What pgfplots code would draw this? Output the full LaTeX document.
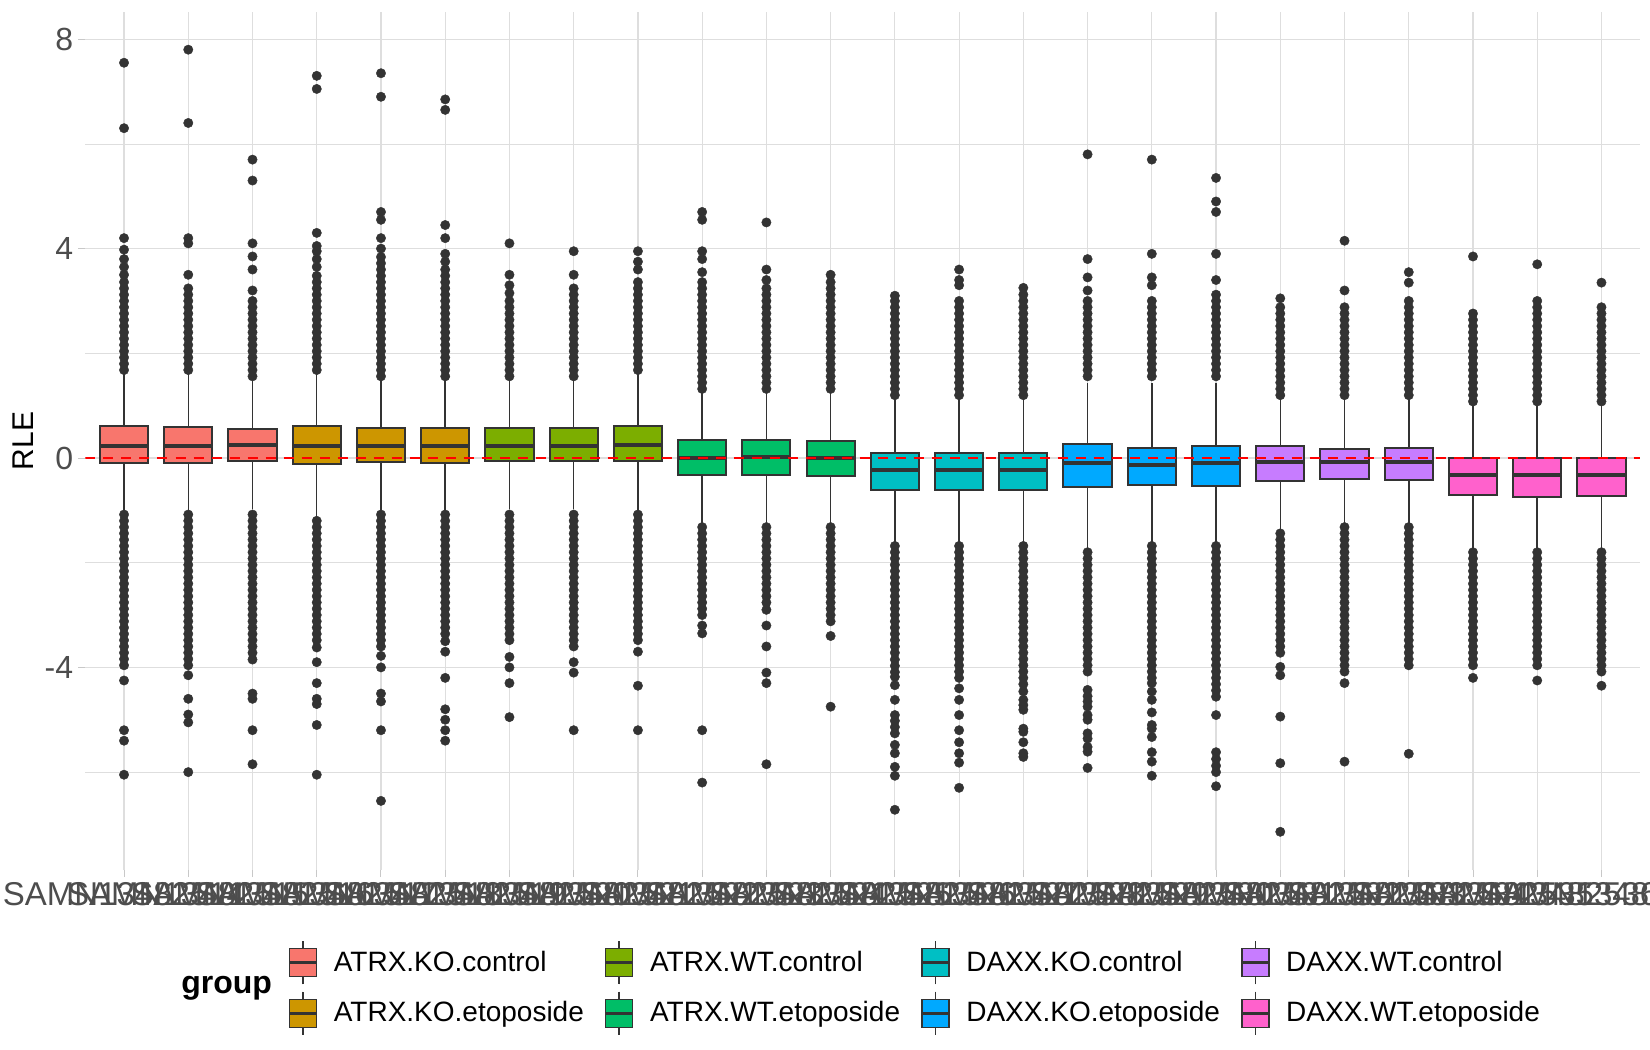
\documentclass[border=0pt]{standalone}
\usepackage{fontspec}
\setmainfont{Liberation Sans}
\usepackage{pgfplots}
\pgfplotsset{compat=1.18}
\usepgfplotslibrary{statistics}
\definecolor{cKOc}{HTML}{F8766D}
\definecolor{cKOe}{HTML}{CD9600}
\definecolor{cWTc}{HTML}{7CAE00}
\definecolor{cWTe}{HTML}{00BE67}
\definecolor{cDKc}{HTML}{00BFC4}
\definecolor{cDKe}{HTML}{00A9FF}
\definecolor{cDWc}{HTML}{C77CFF}
\definecolor{cDWe}{HTML}{FF61CC}
\definecolor{cOut}{HTML}{333333}
\definecolor{cTick}{HTML}{4D4D4D}
\definecolor{cGrid}{HTML}{DEDEDE}
\definecolor{cTickMark}{HTML}{C8C8C8}
\pgfplotsset{
  boxplot/every median/.style={line width=2pt},
  boxplot/every whisker/.style={line width=0.75pt},
  rle/.style={draw=cOut, fill=#1, line width=1pt, solid, forget plot,
    mark=*, mark size=2.35pt,
    mark options={fill=cOut, draw=cOut, line width=0.2pt},
    boxplot/draw direction=y,
    boxplot/box extend=0.75, boxplot/whisker extend=0},
}
\begin{document}
\begin{tikzpicture}
\useasboundingbox (-42.75pt,-90pt) rectangle (782.25pt,435pt);
\begin{axis}[
  scale only axis, width=777.25pt, height=429pt,
  at={(0,0)}, anchor=south west,
  xmin=0.4, xmax=24.6, ymin=-7.87, ymax=8.52,
  clip mode=individual,
  axis line style={draw=none},
  tick pos=left, tick align=outside,
  major tick length=3.5pt, minor tick length=0pt,
  tick style={draw=cTickMark, line width=0.5pt},
  xtick={1,...,24},
  xticklabels={SAMN13482514,SAMN13482515,SAMN13482516,SAMN13482517,SAMN13482518,SAMN13482519,SAMN13482520,SAMN13482521,SAMN13482522,SAMN13482523,SAMN13482524,SAMN13482525,SAMN13482526,SAMN13482527,SAMN13482528,SAMN13482529,SAMN13482530,SAMN13482531,SAMN13482532,SAMN13482533,SAMN13482534,SAMN13482535,SAMN13482536,SAMN13482537},
  ytick={-4,0,4,8}, minor ytick={-6,-2,2,6},
  grid=both,
  major grid style={draw=cGrid, line width=0.6pt},
  minor grid style={draw=cGrid, line width=0.35pt},
  ticklabel style={font=\fontsize{16}{19}\selectfont, text=cTick},
  /pgf/number format/assume math mode=true,
  yticklabel style={anchor=east, inner sep=0pt, xshift=-2.5pt},
  xticklabel style={anchor=north, inner sep=0pt, yshift=-2.5pt, font=\fontsize{16.5}{19}\selectfont},
  ylabel={RLE},
  ylabel style={font=\fontsize{15}{18}\selectfont, at={(axis description cs:-0.0402,0.5)}, anchor=center},
  legend columns=4,
  legend cell align=left,
  legend style={draw=none, fill=none, inner sep=0pt, outer sep=0pt,
    at={(axis description cs:0.1303,-0.1375)}, anchor=west,
    font=\fontsize{14}{17}\selectfont, row sep=3pt,
    nodes={inner sep=0pt},
    /tikz/every odd column/.append style={column sep=8pt},
    /tikz/every even column/.append style={column sep=10.2pt}},
  legend image code/.code={
    \draw[#1, draw=cOut, line width=0.7pt] (0pt,-7pt) rectangle (13.5pt,7pt);
    \draw[cOut, line width=1.4pt] (0pt,0pt) -- (13.5pt,0pt);
    \draw[cOut, line width=0.7pt] (6.75pt,7pt) -- (6.75pt,10.8pt) (6.75pt,-7pt) -- (6.75pt,-10.8pt);
  },
]
\addlegendimage{fill=cKOc}\addlegendentry{ATRX.KO.control}
\addlegendimage{fill=cWTc}\addlegendentry{ATRX.WT.control}
\addlegendimage{fill=cDKc}\addlegendentry{DAXX.KO.control}
\addlegendimage{fill=cDWc}\addlegendentry{DAXX.WT.control}
\addlegendimage{fill=cKOe}\addlegendentry{ATRX.KO.etoposide}
\addlegendimage{fill=cWTe}\addlegendentry{ATRX.WT.etoposide}
\addlegendimage{fill=cDKe}\addlegendentry{DAXX.KO.etoposide}
\addlegendimage{fill=cDWe}\addlegendentry{DAXX.WT.etoposide}

% 1
\addplot[rle=cKOc, boxplot prepared={draw position=1, lower whisker=-1.04, lower quartile=-0.10, median=0.22, upper quartile=0.61, upper whisker=1.62}]
table[row sep=\\, y index=0] {y\\1.68\\1.80\\1.92\\2.04\\2.16\\2.28\\2.40\\2.52\\2.64\\2.76\\2.88\\3.00\\3.12\\3.24\\3.36\\3.50\\3.65\\3.80\\3.98\\4.20\\6.30\\7.55\\
-1.08\\-1.20\\-1.32\\-1.44\\-1.56\\-1.68\\-1.80\\-1.92\\-2.04\\-2.16\\-2.28\\-2.40\\-2.52\\-2.64\\-2.76\\-2.88\\-3.00\\-3.12\\-3.24\\-3.36\\-3.48\\-3.60\\-3.72\\-3.84\\-3.96\\-4.25\\-5.20\\-5.40\\-6.05\\};
% 2
\addplot[rle=cKOc, boxplot prepared={draw position=2, lower whisker=-1.04, lower quartile=-0.10, median=0.22, upper quartile=0.60, upper whisker=1.62}]
table[row sep=\\, y index=0] {y\\1.68\\1.80\\1.92\\2.04\\2.16\\2.28\\2.40\\2.52\\2.64\\2.76\\2.88\\3.00\\3.12\\3.24\\3.50\\4.10\\4.20\\6.40\\7.80\\
-1.08\\-1.20\\-1.32\\-1.44\\-1.56\\-1.68\\-1.80\\-1.92\\-2.04\\-2.16\\-2.28\\-2.40\\-2.52\\-2.64\\-2.76\\-2.88\\-3.00\\-3.12\\-3.24\\-3.36\\-3.48\\-3.60\\-3.72\\-3.84\\-3.96\\-4.15\\-4.60\\-4.90\\-5.05\\-6.00\\};
% 3
\addplot[rle=cKOc, boxplot prepared={draw position=3, lower whisker=-0.98, lower quartile=-0.06, median=0.24, upper quartile=0.56, upper whisker=1.50}]
table[row sep=\\, y index=0] {y\\1.56\\1.68\\1.80\\1.92\\2.04\\2.16\\2.28\\2.40\\2.52\\2.64\\2.76\\2.88\\3.00\\3.20\\3.60\\3.85\\4.10\\5.30\\5.70\\
-1.08\\-1.20\\-1.32\\-1.44\\-1.56\\-1.68\\-1.80\\-1.92\\-2.04\\-2.16\\-2.28\\-2.40\\-2.52\\-2.64\\-2.76\\-2.88\\-3.00\\-3.12\\-3.24\\-3.36\\-3.48\\-3.60\\-3.72\\-3.85\\-4.50\\-4.60\\-5.20\\-5.85\\};
% 4
\addplot[rle=cKOe, boxplot prepared={draw position=4, lower whisker=-1.14, lower quartile=-0.11, median=0.22, upper quartile=0.61, upper whisker=1.62}]
table[row sep=\\, y index=0] {y\\1.68\\1.80\\1.92\\2.04\\2.16\\2.28\\2.40\\2.52\\2.64\\2.76\\2.88\\3.00\\3.12\\3.24\\3.36\\3.48\\3.65\\3.80\\3.95\\4.05\\4.30\\7.05\\7.30\\
-1.20\\-1.32\\-1.44\\-1.56\\-1.68\\-1.80\\-1.92\\-2.04\\-2.16\\-2.28\\-2.40\\-2.52\\-2.64\\-2.76\\-2.88\\-3.00\\-3.12\\-3.24\\-3.36\\-3.48\\-3.62\\-3.90\\-4.30\\-4.60\\-4.70\\-5.10\\-6.05\\};
% 5
\addplot[rle=cKOe, boxplot prepared={draw position=5, lower whisker=-1.04, lower quartile=-0.08, median=0.22, upper quartile=0.58, upper whisker=1.52}]
table[row sep=\\, y index=0] {y\\1.56\\1.68\\1.80\\1.92\\2.04\\2.16\\2.28\\2.40\\2.52\\2.64\\2.76\\2.88\\3.00\\3.12\\3.24\\3.36\\3.48\\3.60\\3.72\\3.84\\4.00\\4.20\\4.55\\4.70\\6.90\\7.35\\
-1.08\\-1.20\\-1.32\\-1.44\\-1.56\\-1.68\\-1.80\\-1.92\\-2.04\\-2.16\\-2.28\\-2.40\\-2.52\\-2.64\\-2.76\\-2.88\\-3.00\\-3.12\\-3.24\\-3.36\\-3.48\\-3.60\\-3.78\\-4.00\\-4.50\\-4.65\\-5.20\\-6.55\\};
% 6
\addplot[rle=cKOe, boxplot prepared={draw position=6, lower whisker=-1.04, lower quartile=-0.09, median=0.22, upper quartile=0.58, upper whisker=1.52}]
table[row sep=\\, y index=0] {y\\1.56\\1.68\\1.80\\1.92\\2.04\\2.16\\2.28\\2.40\\2.52\\2.64\\2.76\\2.88\\3.00\\3.12\\3.24\\3.36\\3.48\\3.60\\3.75\\3.90\\4.20\\4.45\\6.65\\6.85\\
-1.08\\-1.20\\-1.32\\-1.44\\-1.56\\-1.68\\-1.80\\-1.92\\-2.04\\-2.16\\-2.28\\-2.40\\-2.52\\-2.64\\-2.76\\-2.88\\-3.00\\-3.12\\-3.24\\-3.36\\-3.50\\-3.70\\-4.20\\-4.80\\-5.00\\-5.20\\-5.40\\};
% 7
\addplot[rle=cWTc, boxplot prepared={draw position=7, lower whisker=-0.98, lower quartile=-0.06, median=0.23, upper quartile=0.58, upper whisker=1.50}]
table[row sep=\\, y index=0] {y\\1.56\\1.68\\1.80\\1.92\\2.04\\2.16\\2.28\\2.40\\2.52\\2.64\\2.76\\2.88\\3.00\\3.15\\3.30\\3.50\\4.10\\
-1.08\\-1.20\\-1.32\\-1.44\\-1.56\\-1.68\\-1.80\\-1.92\\-2.04\\-2.16\\-2.28\\-2.40\\-2.52\\-2.64\\-2.76\\-2.88\\-3.00\\-3.12\\-3.24\\-3.36\\-3.48\\-3.80\\-4.00\\-4.30\\-4.95\\};
% 8
\addplot[rle=cWTc, boxplot prepared={draw position=8, lower whisker=-0.98, lower quartile=-0.06, median=0.23, upper quartile=0.58, upper whisker=1.50}]
table[row sep=\\, y index=0] {y\\1.56\\1.68\\1.80\\1.92\\2.04\\2.16\\2.28\\2.40\\2.52\\2.64\\2.76\\2.88\\3.00\\3.12\\3.24\\3.50\\3.95\\
-1.08\\-1.20\\-1.32\\-1.44\\-1.56\\-1.68\\-1.80\\-1.92\\-2.04\\-2.16\\-2.28\\-2.40\\-2.52\\-2.64\\-2.76\\-2.88\\-3.00\\-3.12\\-3.24\\-3.36\\-3.48\\-3.60\\-3.90\\-4.10\\-5.20\\};
% 9
\addplot[rle=cWTc, boxplot prepared={draw position=9, lower whisker=-1.00, lower quartile=-0.06, median=0.24, upper quartile=0.61, upper whisker=1.62}]
table[row sep=\\, y index=0] {y\\1.68\\1.80\\1.92\\2.04\\2.16\\2.28\\2.40\\2.52\\2.64\\2.76\\2.88\\3.00\\3.12\\3.24\\3.36\\3.60\\3.75\\3.95\\
-1.08\\-1.20\\-1.32\\-1.44\\-1.56\\-1.68\\-1.80\\-1.92\\-2.04\\-2.16\\-2.28\\-2.40\\-2.52\\-2.64\\-2.76\\-2.88\\-3.00\\-3.12\\-3.24\\-3.36\\-3.48\\-3.70\\-4.35\\-5.20\\};
% 10
\addplot[rle=cWTe, boxplot prepared={draw position=10, lower whisker=-1.28, lower quartile=-0.33, median=0.00, upper quartile=0.34, upper whisker=1.30}]
table[row sep=\\, y index=0] {y\\1.32\\1.44\\1.56\\1.68\\1.80\\1.92\\2.04\\2.16\\2.28\\2.40\\2.52\\2.64\\2.76\\2.88\\3.00\\3.12\\3.24\\3.36\\3.55\\3.80\\3.95\\4.55\\4.70\\
-1.32\\-1.44\\-1.56\\-1.68\\-1.80\\-1.92\\-2.04\\-2.16\\-2.28\\-2.40\\-2.52\\-2.64\\-2.76\\-2.88\\-3.00\\-3.20\\-3.35\\-5.20\\-6.20\\};
% 11
\addplot[rle=cWTe, boxplot prepared={draw position=11, lower whisker=-1.28, lower quartile=-0.32, median=0.01, upper quartile=0.34, upper whisker=1.30}]
table[row sep=\\, y index=0] {y\\1.32\\1.44\\1.56\\1.68\\1.80\\1.92\\2.04\\2.16\\2.28\\2.40\\2.52\\2.64\\2.76\\2.88\\3.00\\3.12\\3.24\\3.40\\3.60\\4.50\\
-1.32\\-1.44\\-1.56\\-1.68\\-1.80\\-1.92\\-2.04\\-2.16\\-2.28\\-2.40\\-2.52\\-2.64\\-2.76\\-2.90\\-3.20\\-3.60\\-4.10\\-4.30\\-5.85\\};
% 12
\addplot[rle=cWTe, boxplot prepared={draw position=12, lower whisker=-1.28, lower quartile=-0.34, median=0.00, upper quartile=0.33, upper whisker=1.30}]
table[row sep=\\, y index=0] {y\\1.32\\1.44\\1.56\\1.68\\1.80\\1.92\\2.04\\2.16\\2.28\\2.40\\2.52\\2.64\\2.76\\2.88\\3.00\\3.12\\3.24\\3.36\\3.50\\
-1.32\\-1.44\\-1.56\\-1.68\\-1.80\\-1.92\\-2.04\\-2.16\\-2.28\\-2.40\\-2.52\\-2.64\\-2.76\\-2.88\\-3.00\\-3.12\\-3.40\\-4.75\\};
% 13
\addplot[rle=cDKc, boxplot prepared={draw position=13, lower whisker=-1.64, lower quartile=-0.62, median=-0.23, upper quartile=0.09, upper whisker=1.14}]
table[row sep=\\, y index=0] {y\\1.20\\1.32\\1.44\\1.56\\1.68\\1.80\\1.92\\2.04\\2.16\\2.28\\2.40\\2.52\\2.64\\2.76\\2.88\\3.00\\3.10\\
-1.68\\-1.80\\-1.92\\-2.04\\-2.16\\-2.28\\-2.40\\-2.52\\-2.64\\-2.76\\-2.88\\-3.00\\-3.12\\-3.24\\-3.36\\-3.48\\-3.60\\-3.72\\-3.85\\-3.97\\-4.09\\-4.18\\-4.34\\-4.62\\-4.91\\-5.02\\-5.14\\-5.26\\-5.48\\-5.64\\-5.90\\-6.07\\-6.72\\};
% 14
\addplot[rle=cDKc, boxplot prepared={draw position=14, lower whisker=-1.64, lower quartile=-0.62, median=-0.23, upper quartile=0.09, upper whisker=1.14}]
table[row sep=\\, y index=0] {y\\1.20\\1.32\\1.44\\1.56\\1.68\\1.80\\1.92\\2.04\\2.16\\2.28\\2.40\\2.52\\2.64\\2.76\\2.88\\3.00\\3.30\\3.40\\3.60\\
-1.68\\-1.80\\-1.92\\-2.04\\-2.16\\-2.28\\-2.40\\-2.52\\-2.64\\-2.76\\-2.88\\-3.00\\-3.12\\-3.24\\-3.36\\-3.48\\-3.60\\-3.72\\-3.84\\-3.96\\-4.08\\-4.20\\-4.40\\-4.62\\-4.91\\-5.20\\-5.43\\-5.64\\-5.82\\-6.30\\};
% 15
\addplot[rle=cDKc, boxplot prepared={draw position=15, lower whisker=-1.64, lower quartile=-0.62, median=-0.23, upper quartile=0.09, upper whisker=1.14}]
table[row sep=\\, y index=0] {y\\1.20\\1.32\\1.44\\1.56\\1.68\\1.80\\1.92\\2.04\\2.16\\2.28\\2.40\\2.52\\2.64\\2.76\\2.88\\3.00\\3.12\\3.25\\
-1.68\\-1.80\\-1.92\\-2.04\\-2.16\\-2.28\\-2.40\\-2.52\\-2.64\\-2.76\\-2.88\\-3.00\\-3.12\\-3.24\\-3.36\\-3.48\\-3.60\\-3.72\\-3.84\\-3.96\\-4.08\\-4.20\\-4.32\\-4.46\\-4.62\\-4.72\\-4.81\\-5.17\\-5.23\\-5.43\\-5.64\\-5.71\\};
% 16
\addplot[rle=cDKe, boxplot prepared={draw position=16, lower whisker=-1.74, lower quartile=-0.56, median=-0.10, upper quartile=0.26, upper whisker=1.44}]
table[row sep=\\, y index=0] {y\\1.56\\1.68\\1.80\\1.92\\2.04\\2.16\\2.28\\2.40\\2.52\\2.64\\2.76\\2.88\\3.00\\3.20\\3.45\\3.80\\5.80\\
-1.80\\-1.92\\-2.04\\-2.16\\-2.28\\-2.40\\-2.52\\-2.64\\-2.76\\-2.88\\-3.00\\-3.12\\-3.24\\-3.36\\-3.48\\-3.60\\-3.72\\-3.84\\-3.96\\-4.08\\-4.43\\-4.55\\-4.65\\-4.75\\-4.91\\-5.00\\-5.26\\-5.36\\-5.52\\-5.61\\-5.92\\};
% 17
\addplot[rle=cDKe, boxplot prepared={draw position=17, lower whisker=-1.64, lower quartile=-0.52, median=-0.13, upper quartile=0.20, upper whisker=1.44}]
table[row sep=\\, y index=0] {y\\1.56\\1.68\\1.80\\1.92\\2.04\\2.16\\2.28\\2.40\\2.52\\2.64\\2.76\\2.88\\3.00\\3.30\\3.45\\3.90\\5.70\\
-1.68\\-1.80\\-1.92\\-2.04\\-2.16\\-2.28\\-2.40\\-2.52\\-2.64\\-2.76\\-2.88\\-3.00\\-3.12\\-3.24\\-3.36\\-3.48\\-3.60\\-3.72\\-3.84\\-3.96\\-4.08\\-4.20\\-4.30\\-4.46\\-4.62\\-4.86\\-5.10\\-5.17\\-5.33\\-5.62\\-5.80\\-6.07\\};
% 18
\addplot[rle=cDKe, boxplot prepared={draw position=18, lower whisker=-1.64, lower quartile=-0.53, median=-0.10, upper quartile=0.22, upper whisker=1.44}]
table[row sep=\\, y index=0] {y\\1.56\\1.68\\1.80\\1.92\\2.04\\2.16\\2.28\\2.40\\2.52\\2.64\\2.76\\2.88\\3.00\\3.12\\3.40\\3.90\\4.70\\4.90\\5.35\\
-1.68\\-1.80\\-1.92\\-2.04\\-2.16\\-2.28\\-2.40\\-2.52\\-2.64\\-2.76\\-2.88\\-3.00\\-3.12\\-3.24\\-3.36\\-3.48\\-3.60\\-3.72\\-3.84\\-3.96\\-4.08\\-4.20\\-4.32\\-4.44\\-4.56\\-4.91\\-5.62\\-5.75\\-5.88\\-6.00\\-6.27\\};
% 19
\addplot[rle=cDWc, boxplot prepared={draw position=19, lower whisker=-1.36, lower quartile=-0.43, median=-0.07, upper quartile=0.22, upper whisker=1.16}]
table[row sep=\\, y index=0] {y\\1.20\\1.32\\1.44\\1.56\\1.68\\1.80\\1.92\\2.04\\2.16\\2.28\\2.40\\2.52\\2.64\\2.76\\2.88\\3.05\\
-1.44\\-1.56\\-1.68\\-1.80\\-1.92\\-2.04\\-2.16\\-2.28\\-2.40\\-2.52\\-2.64\\-2.76\\-2.88\\-3.00\\-3.12\\-3.24\\-3.36\\-3.48\\-3.60\\-3.72\\-3.99\\-4.15\\-4.94\\-5.83\\-7.14\\};
% 20
\addplot[rle=cDWc, boxplot prepared={draw position=20, lower whisker=-1.28, lower quartile=-0.40, median=-0.08, upper quartile=0.18, upper whisker=1.12}]
table[row sep=\\, y index=0] {y\\1.20\\1.32\\1.44\\1.56\\1.68\\1.80\\1.92\\2.04\\2.16\\2.28\\2.40\\2.52\\2.64\\2.76\\2.88\\3.20\\4.15\\
-1.32\\-1.44\\-1.56\\-1.68\\-1.80\\-1.92\\-2.04\\-2.16\\-2.28\\-2.40\\-2.52\\-2.64\\-2.76\\-2.88\\-3.00\\-3.12\\-3.24\\-3.36\\-3.48\\-3.60\\-3.72\\-3.84\\-3.96\\-4.08\\-4.30\\-5.80\\};
% 21
\addplot[rle=cDWc, boxplot prepared={draw position=21, lower whisker=-1.28, lower quartile=-0.42, median=-0.08, upper quartile=0.20, upper whisker=1.12}]
table[row sep=\\, y index=0] {y\\1.20\\1.32\\1.44\\1.56\\1.68\\1.80\\1.92\\2.04\\2.16\\2.28\\2.40\\2.52\\2.64\\2.76\\2.88\\3.00\\3.35\\3.55\\
-1.32\\-1.44\\-1.56\\-1.68\\-1.80\\-1.92\\-2.04\\-2.16\\-2.28\\-2.40\\-2.52\\-2.64\\-2.76\\-2.88\\-3.00\\-3.12\\-3.24\\-3.36\\-3.48\\-3.60\\-3.72\\-3.84\\-3.96\\-5.65\\};
% 22
\addplot[rle=cDWe, boxplot prepared={draw position=22, lower whisker=-1.74, lower quartile=-0.71, median=-0.32, upper quartile=0.00, upper whisker=1.02}]
table[row sep=\\, y index=0] {y\\1.08\\1.20\\1.32\\1.44\\1.56\\1.68\\1.80\\1.92\\2.04\\2.16\\2.28\\2.40\\2.52\\2.64\\2.76\\3.85\\
-1.80\\-1.92\\-2.04\\-2.16\\-2.28\\-2.40\\-2.52\\-2.64\\-2.76\\-2.88\\-3.00\\-3.12\\-3.24\\-3.36\\-3.48\\-3.60\\-3.72\\-3.84\\-3.96\\-4.20\\};
% 23
\addplot[rle=cDWe, boxplot prepared={draw position=23, lower whisker=-1.74, lower quartile=-0.74, median=-0.32, upper quartile=0.00, upper whisker=1.02}]
table[row sep=\\, y index=0] {y\\1.08\\1.20\\1.32\\1.44\\1.56\\1.68\\1.80\\1.92\\2.04\\2.16\\2.28\\2.40\\2.52\\2.64\\2.76\\2.88\\3.00\\3.70\\
-1.80\\-1.92\\-2.04\\-2.16\\-2.28\\-2.40\\-2.52\\-2.64\\-2.76\\-2.88\\-3.00\\-3.12\\-3.24\\-3.36\\-3.48\\-3.60\\-3.72\\-3.84\\-3.96\\-4.25\\};
% 24
\addplot[rle=cDWe, boxplot prepared={draw position=24, lower whisker=-1.74, lower quartile=-0.73, median=-0.32, upper quartile=0.00, upper whisker=1.02}]
table[row sep=\\, y index=0] {y\\1.08\\1.20\\1.32\\1.44\\1.56\\1.68\\1.80\\1.92\\2.04\\2.16\\2.28\\2.40\\2.52\\2.64\\2.76\\2.88\\3.35\\
-1.80\\-1.92\\-2.04\\-2.16\\-2.28\\-2.40\\-2.52\\-2.64\\-2.76\\-2.88\\-3.00\\-3.12\\-3.24\\-3.36\\-3.48\\-3.60\\-3.72\\-3.84\\-3.96\\-4.08\\-4.35\\};

\addplot[red, line width=0.9pt, dash pattern=on 5pt off 4pt, forget plot] coordinates {(0.4,0) (24.6,0)};

\node[font=\bfseries\fontsize{16}{19}\selectfont, anchor=base west, inner sep=0pt] at (axis description cs:0.0614,-0.1445) {group};
\end{axis}
\end{tikzpicture}
\end{document}
